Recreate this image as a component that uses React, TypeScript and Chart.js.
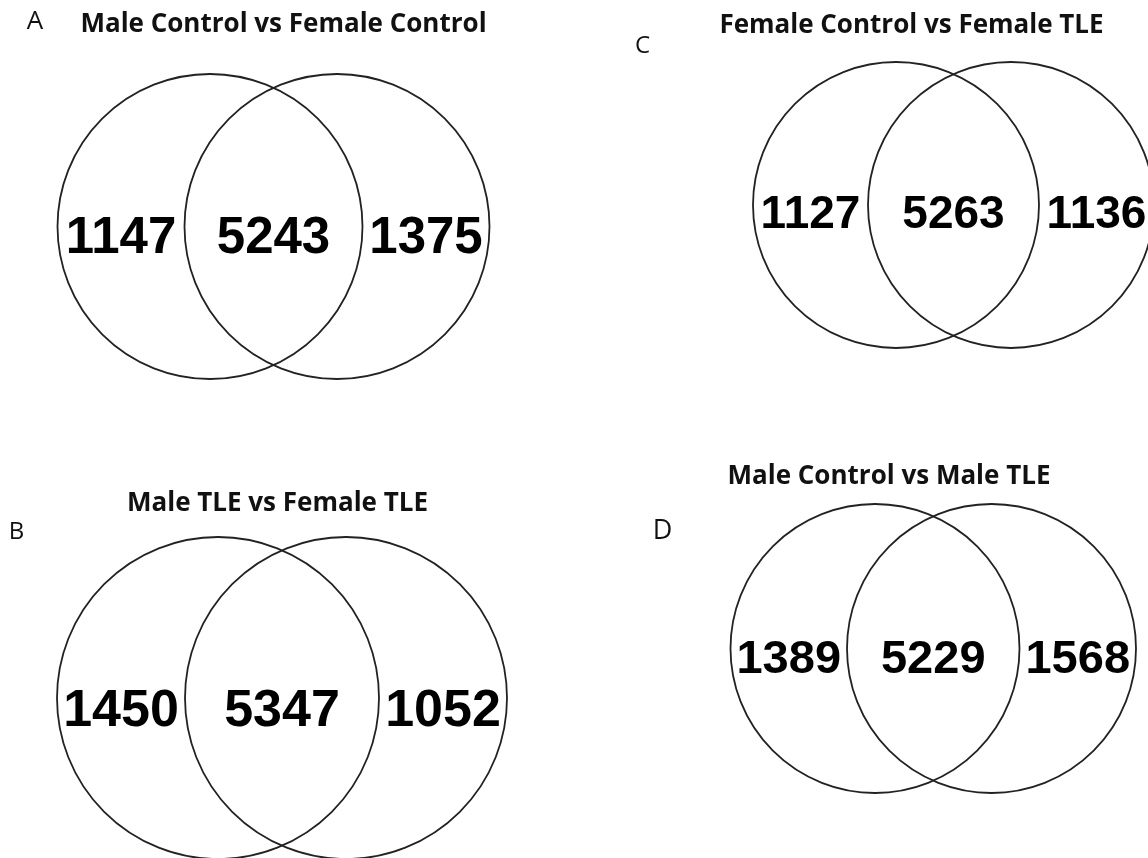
import React, { useEffect, useRef } from 'react';
import { Chart, registerables } from 'chart.js';

Chart.register(...registerables);

// ---- data ----
const panelLetters = ['A', 'B', 'C', 'D'];
const panelTitles = [
  'Male Control vs Female Control',
  'Male TLE vs Female TLE',
  'Female Control vs Female TLE',
  'Male Control vs Male TLE',
];
const leftOnly = [1147, 1450, 1127, 1389];
const shared = [5243, 5347, 5263, 5229];
const rightOnly = [1375, 1052, 1136, 1568];

// ---- layout (units of a 1148 x 858 grid) ----
const GRID_W = 1148;
const GRID_H = 858;
const TITLE_SIZE = 26;
const layout = [
  { cxL: 210, cxR: 337, cy: 226.5, r: 152.5, labelY: 235, numSize: 51, titleX: 283.5, titleBase: 32, letterX: 35, letterBase: 29, letterSize: 26 },
  { cxL: 218, cxR: 346, cy: 698, r: 161, labelY: 707.5, numSize: 52, titleX: 277.5, titleBase: 511, letterX: 16.5, letterBase: 539, letterSize: 24 },
  { cxL: 896, cxR: 1011, cy: 205, r: 143, labelY: 211, numSize: 46, titleX: 911.5, titleBase: 33, letterX: 642.5, letterBase: 53, letterSize: 24 },
  { cxL: 875, cxR: 991.5, cy: 648.5, r: 144.5, labelY: 656, numSize: 47, titleX: 889, titleBase: 484, letterX: 662.5, letterBase: 539, letterSize: 27 },
];

const labelPoints = (i: number) => {
  const g = layout[i];
  const lL = g.cxL - g.r, lR = g.cxL + g.r, rL = g.cxR - g.r, rR = g.cxR + g.r;
  return [
    { x: (lL + rL) / 2, y: g.labelY },
    { x: (rL + lR) / 2, y: g.labelY },
    { x: (lR + rR) / 2, y: g.labelY },
  ];
};

const vennPlugin = {
  id: 'venn',
  afterDatasetsDraw(chart: any) {
    const ctx = chart.ctx;
    const xs = chart.scales.x;
    const ys = chart.scales.y;
    layout.forEach((g, i) => {
      // circles
      ctx.save();
      ctx.strokeStyle = '#222222';
      ctx.lineWidth = 1.8;
      [g.cxL, g.cxR].forEach((cx) => {
        const px = xs.getPixelForValue(cx);
        const py = ys.getPixelForValue(g.cy);
        const rxp = Math.abs(xs.getPixelForValue(cx + g.r) - px);
        const ryp = Math.abs(ys.getPixelForValue(g.cy + g.r) - py);
        ctx.beginPath();
        ctx.ellipse(px, py, rxp, ryp, 0, 0, Math.PI * 2);
        ctx.stroke();
      });
      ctx.restore();

      // counts
      const counts = [leftOnly[i], shared[i], rightOnly[i]];
      const meta = chart.getDatasetMeta(i);
      meta.data.forEach((el: any, j: number) => {
        ctx.save();
        ctx.fillStyle = '#000';
        ctx.font = `bold ${g.numSize}px "Liberation Sans", Arial, sans-serif`;
        ctx.textAlign = 'center';
        ctx.textBaseline = 'alphabetic';
        ctx.fillText(String(counts[j]), el.x, el.y + 0.36 * g.numSize);
        ctx.restore();
      });

      // title
      ctx.save();
      ctx.fillStyle = '#111';
      ctx.font = `bold ${TITLE_SIZE}px "Open Sans", Lato, sans-serif`;
      ctx.textAlign = 'center';
      ctx.textBaseline = 'alphabetic';
      ctx.fillText(panelTitles[i], xs.getPixelForValue(g.titleX), ys.getPixelForValue(g.titleBase));
      ctx.restore();

      // panel letter
      ctx.save();
      ctx.fillStyle = '#111';
      ctx.font = `${g.letterSize}px "Open Sans", Lato, sans-serif`;
      ctx.textAlign = 'center';
      ctx.textBaseline = 'alphabetic';
      ctx.fillText(panelLetters[i], xs.getPixelForValue(g.letterX), ys.getPixelForValue(g.letterBase));
      ctx.restore();
    });
  },
};

export default function App() {
  const ref = useRef<HTMLCanvasElement | null>(null);
  useEffect(() => {
    if (!ref.current) return;
    const chart = new Chart(ref.current, {
      type: 'scatter',
      data: {
        datasets: layout.map((_, i) => ({
          label: panelTitles[i],
          data: labelPoints(i),
          pointRadius: 0,
          pointHoverRadius: 0,
        })),
      },
      options: {
        animation: false,
        responsive: false,
        events: [],
        layout: { padding: 0 },
        plugins: { legend: { display: false }, tooltip: { enabled: false }, title: { display: false } },
        scales: {
          x: { type: 'linear', min: 0, max: GRID_W, display: false },
          y: { type: 'linear', min: 0, max: GRID_H, reverse: true, display: false },
        },
      },
      plugins: [vennPlugin],
    });
    return () => chart.destroy();
  }, []);
  return (
    <div style={{ position: 'fixed', left: 0, top: 0, width: GRID_W, height: GRID_H, background: '#fff' }}>
      <canvas ref={ref} width={GRID_W} height={GRID_H} style={{ display: 'block' }} />
    </div>
  );
}
